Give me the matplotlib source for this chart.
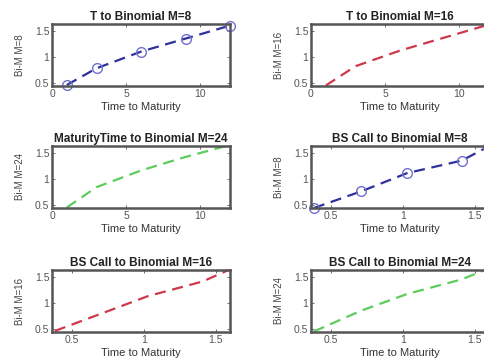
import numpy as np
import matplotlib
matplotlib.use("Agg")
import matplotlib.pyplot as plt

plt.rcParams['font.family'] = ['Liberation Sans', 'DejaVu Sans']

# maturities (months) and binomial prices
t_mat = [1, 3, 6, 9, 12]
bin_m8 = [0.46, 0.78, 1.10, 1.35, 1.60]
bin_m16 = [0.45, 0.82, 1.12, 1.37, 1.62]
bin_m24 = [0.45, 0.84, 1.16, 1.42, 1.65]

# Black-Scholes call prices (x axis of the bottom panels)
bs_call = [0.38, 0.71, 1.03, 1.41, 1.59]
bs_m8 = [0.44, 0.76, 1.11, 1.35, 1.61]
bs_m16 = [0.46, 0.80, 1.13, 1.41, 1.63]
bs_m24 = [0.45, 0.85, 1.17, 1.45, 1.65]

blue = '#2f2f9e'
red = '#d0384a'
green = '#5ccc5c'

fig = plt.figure(figsize=(4.84, 3.64), dpi=100)

W, H = 484.0, 364.0
col_left = [52, 311]
row_top = [24, 146, 270]
ax_w, ax_h = 178, 62

panels = [
    (0, 0, t_mat, bin_m8, blue, 'o', 'T to Binomial M=8', 'Bi-M M=8', 'time'),
    (0, 1, t_mat, bin_m16, red, None, 'T to Binomial M=16', 'Bi-M M=16', 'time'),
    (1, 0, t_mat, bin_m24, green, None, 'MaturityTime to Binomial M=24', 'Bi-M M=24', 'time'),
    (1, 1, bs_call, bs_m8, blue, 'o', 'BS Call to Binomial M=8', 'Bi-M M=8', 'bs'),
    (2, 0, bs_call, bs_m16, red, None, 'BS Call to Binomial M=16', 'Bi-M M=16', 'bs'),
    (2, 1, bs_call, bs_m24, green, None, 'BS Call to Binomial M=24', 'Bi-M M=24', 'bs'),
]

for r, c, x, y, color, mk, title, ylab, kind in panels:
    left = col_left[c] / W
    bottom = (H - row_top[r] - ax_h) / H
    ax = fig.add_axes([left, bottom, ax_w / W, ax_h / H])
    ax.plot(x, y, linestyle=(0, (5, 3)), color=color, linewidth=1.6,
            marker=mk, markersize=7, markerfacecolor='none',
            markeredgecolor='#7070d0', markeredgewidth=1.0, clip_on=False)
    if kind == 'time':
        ax.set_xlim(0, 12)
        ax.set_xticks([0, 5, 10])
    else:
        ax.set_xlim(0.36, 1.6)
        ax.set_xticks([0.5, 1, 1.5])
        ax.set_xticklabels(['0.5', '1', '1.5'])
    ax.set_ylim(0.44, 1.63)
    ax.set_yticks([0.5, 1, 1.5])
    ax.set_yticklabels(['0.5', '1', '1.5'])
    ax.set_title(title, fontsize=8.5, fontweight='bold', color='#222222', pad=3)
    ax.set_xlabel('Time to Maturity', fontsize=8, color='#333333', labelpad=2)
    ax.set_ylabel(ylab, fontsize=7, color='#444444', labelpad=7)
    ax.tick_params(direction='in', length=2, width=0.6, labelsize=7.5,
                   colors='#555555', pad=2, top=True, right=True)
    for sp in ax.spines.values():
        sp.set_linewidth(1.8)
        sp.set_color('#555555')

fig.savefig('out.png', dpi=100)
